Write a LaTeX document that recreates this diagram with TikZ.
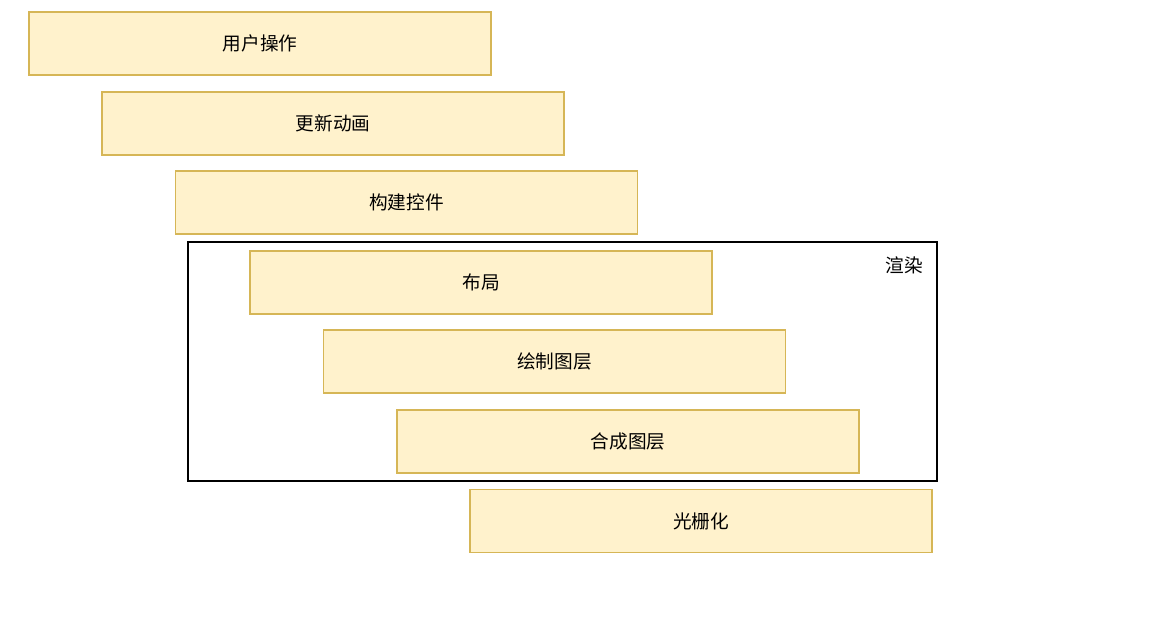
\documentclass[tikz,border=0pt]{standalone}
\usepackage{fontspec}
\newfontfamily\cjk{Noto Sans CJK SC}
\usetikzlibrary{positioning}
\definecolor{stagefill}{HTML}{FFF2CC}
\definecolor{stageline}{HTML}{D6B656}

\begin{document}
\begin{tikzpicture}[x=0.75pt,y=-0.75pt,every node/.style={font=\cjk\fontsize{14}{16}\selectfont}]
\tikzset{stagebox/.style={draw=stageline,fill=stagefill,line width=1pt,minimum width=346.5pt,minimum height=47.25pt,inner sep=0pt}}
\useasboundingbox (0,0) rectangle (1161,617);
\node[draw=black,line width=1pt,minimum width=561.75pt,minimum height=179.25pt,inner sep=0pt] (render) at (562.5,361.5) {};
\node[anchor=north east,inner sep=0pt] (renderlbl) at ([xshift=-11pt,yshift=-11.5pt]render.north east) {渲染};
\node[stagebox] (s1) at (260,43.5) {用户操作};
\node[stagebox] (s2) at (333,123.5) {更新动画};
\node[stagebox] (s3) at (406.5,202.5) {构建控件};
\node[stagebox] (s4) at (481,282.5) {布局};
\node[stagebox] (s5) at (554.5,361.5) {绘制图层};
\node[stagebox] (s6) at (628,441.5) {合成图层};
\node[stagebox] (s7) at (701,521) {光栅化};
\end{tikzpicture}
\end{document}
